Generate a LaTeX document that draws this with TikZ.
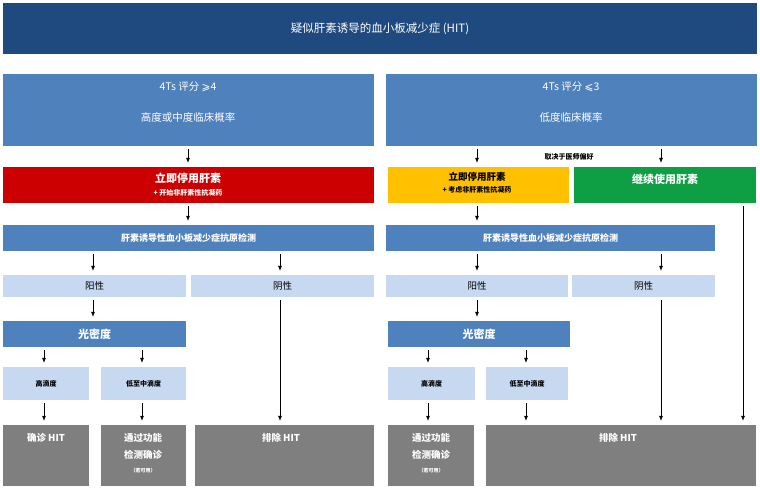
\documentclass[tikz,border=0pt]{standalone}
\usepackage{fontspec}
\setmainfont{Liberation Sans}
\newfontfamily\cjk{Noto Sans CJK SC}
\newfontfamily\dv{DejaVu Sans}
\usetikzlibrary{arrows.meta}
\definecolor{dblue}{HTML}{1F4A7F}
\definecolor{mblue}{HTML}{4F81BD}
\definecolor{lblue}{HTML}{C6D9F1}
\definecolor{hred}{HTML}{CC0000}
\definecolor{hyel}{HTML}{FFC000}
\definecolor{hgrn}{HTML}{0E9F44}
\definecolor{hgray}{HTML}{7F7F7F}
\begin{document}
\begin{tikzpicture}[x=1pt,y=-1pt,font=\cjk\fontsize{10.5}{12}\selectfont,
  arr/.style={-{Latex[length=5pt,width=4pt]},line width=0.6pt,shorten >=4pt,shorten <=3pt},
  wt/.style={text=white}]
\useasboundingbox (0,0) rectangle (760,488);
\newcommand\bb[6]{\fill[#6] (#2,#3) rectangle (#4,#5); \node[inner sep=0] (#1) at ({(#2+#4)/2},{(#3+#5)/2}) [minimum width={#4-#2},minimum height={#5-#3}] {};}
\bb{title}{3}{3}{757}{54}{dblue}
\node[wt,font=\cjk\fontsize{11.5}{13}\selectfont] at (title) {疑似肝素诱导的血小板减少症 (HIT)};
\bb{lt}{3}{74}{374}{146}{mblue}
\node[wt] at (188,87) {4Ts 评分 {\dv ⩾}4};
\node[wt] at (188,117) {高度或中度临床概率};
\bb{rt}{386}{74}{757}{146}{mblue}
\node[wt] at (571,87) {4Ts 评分 {\dv ⩽}3};
\node[wt] at (571,117) {低度临床概率};
\bb{red}{3}{167}{374}{203}{hred}
\node[wt,font=\cjk\bfseries\fontsize{11}{12}\selectfont] at (188,178) {立即停用肝素};
\node[wt,font=\cjk\bfseries\fontsize{7}{8}\selectfont] at (188,193) {+ 开始非肝素性抗凝药};
\bb{yel}{388}{167}{569}{203}{hyel}
\node[font=\cjk\bfseries\fontsize{9.5}{11}\selectfont] at (477,177) {立即停用肝素};
\node[font=\cjk\bfseries\fontsize{7}{8}\selectfont] at (477,190) {+ 考虑非肝素性抗凝药};
\bb{grn}{574}{167}{756}{203}{hgrn}
\node[wt,font=\cjk\bfseries\fontsize{11}{12}\selectfont] at (665,179) {继续使用肝素};
\node[font=\cjk\bfseries\fontsize{7}{8}\selectfont] (pref) at (569,157) {取决于医师偏好};
\bb{la}{3}{225}{374}{251}{mblue}
\node[wt,font=\cjk\bfseries\fontsize{9}{11}\selectfont] at (la) {肝素诱导性血小板减少症抗原检测};
\bb{ra}{386}{225}{715}{251}{mblue}
\node[wt,font=\cjk\bfseries\fontsize{9}{11}\selectfont] at (ra) {肝素诱导性血小板减少症抗原检测};
\bb{lp}{3}{275}{186}{297}{lblue}\node[font=\cjk\fontsize{9.5}{11}\selectfont] at (lp) {阳性};
\bb{ln}{191}{275}{374}{297}{lblue}\node[font=\cjk\fontsize{9.5}{11}\selectfont] at (ln) {阴性};
\bb{rp}{386}{275}{568}{297}{lblue}\node[font=\cjk\fontsize{9.5}{11}\selectfont] at (rp) {阳性};
\bb{rn}{572}{275}{715}{297}{lblue}\node[font=\cjk\fontsize{9.5}{11}\selectfont] at (rn) {阴性};
\bb{lo}{3}{321}{186}{347}{mblue}\node[wt,font=\cjk\bfseries\fontsize{11}{12}\selectfont] at (lo) {光密度};
\bb{ro}{388}{321}{570}{347}{mblue}\node[wt,font=\cjk\bfseries\fontsize{11}{12}\selectfont] at (ro) {光密度};
\bb{lh}{3}{367}{89}{400}{lblue}\node[font=\cjk\bfseries\fontsize{7}{8}\selectfont] at (lh) {高滴度};
\bb{ll}{101}{367}{186}{400}{lblue}\node[font=\cjk\bfseries\fontsize{7}{8}\selectfont] at (ll) {低至中滴度};
\bb{rh}{388}{367}{475}{400}{lblue}\node[font=\cjk\bfseries\fontsize{7}{8}\selectfont] at (rh) {高滴度};
\bb{rl}{486}{367}{568}{400}{lblue}\node[font=\cjk\bfseries\fontsize{7}{8}\selectfont] at (rl) {低至中滴度};
\bb{g1}{3}{425}{89}{486}{hgray}\node[wt,font=\cjk\bfseries\fontsize{9.5}{11}\selectfont] at (46,438) {确诊 HIT};
\bb{g2}{101}{425}{186}{486}{hgray}
\node[wt,font=\cjk\bfseries\fontsize{9.5}{11}\selectfont] at (143,438) {通过功能};
\node[wt,font=\cjk\bfseries\fontsize{9.5}{11}\selectfont] at (143,455) {检测确诊};
\node[wt,font=\cjk\bfseries\fontsize{5}{6}\selectfont] at (143,471) {（若可用）};
\bb{g3}{195}{425}{374}{486}{hgray}\node[wt,font=\cjk\bfseries\fontsize{9.5}{11}\selectfont] at (281,438) {排除 HIT};
\bb{g4}{388}{425}{474}{486}{hgray}
\node[wt,font=\cjk\bfseries\fontsize{9.5}{11}\selectfont] at (431,438) {通过功能};
\node[wt,font=\cjk\bfseries\fontsize{9.5}{11}\selectfont] at (431,455) {检测确诊};
\node[wt,font=\cjk\bfseries\fontsize{5}{6}\selectfont] at (431,471) {（若可用）};
\bb{g5}{486}{425}{756}{486}{hgray}\node[wt,font=\cjk\bfseries\fontsize{9.5}{11}\selectfont] at (618,438) {排除 HIT};
% connectors
\coordinate (c1) at (188,0); \coordinate (c2) at (477,0); \coordinate (c3) at (661,0);
\coordinate (c4) at (93,0); \coordinate (c5) at (280,0); \coordinate (c6) at (743,0);
\coordinate (c7) at (44,0); \coordinate (c8) at (142,0); \coordinate (c9) at (428,0); \coordinate (c10) at (526,0);
\draw[arr] (lt.south -| c1) -- (red.north -| c1);
\draw[arr] (rt.south -| c2) -- (yel.north -| c2);
\draw[arr] (rt.south -| c3) -- (grn.north -| c3);
\draw[arr] (red.south -| c1) -- (la.north -| c1);
\draw[arr] (yel.south -| c2) -- (ra.north -| c2);
\draw[arr] (la.south -| c4) -- (lp.north -| c4);
\draw[arr] (la.south -| c5) -- (ln.north -| c5);
\draw[arr] (ra.south -| c2) -- (rp.north -| c2);
\draw[arr] (ra.south -| c3) -- (rn.north -| c3);
\draw[arr] (lp.south -| c4) -- (lo.north -| c4);
\draw[arr] (rp.south -| c2) -- (ro.north -| c2);
\draw[arr] (ln.south -| c5) -- (g3.north -| c5);
\draw[arr] (rn.south -| c3) -- (g5.north -| c3);
\draw[arr] (grn.south -| c6) -- (g5.north -| c6);
\draw[arr] (lo.south -| c7) -- (lh.north -| c7);
\draw[arr] (lo.south -| c8) -- (ll.north -| c8);
\draw[arr] (ro.south -| c9) -- (rh.north -| c9);
\draw[arr] (ro.south -| c10) -- (rl.north -| c10);
\draw[arr] (lh.south -| c7) -- (g1.north -| c7);
\draw[arr] (ll.south -| c8) -- (g2.north -| c8);
\draw[arr] (rh.south -| c9) -- (g4.north -| c9);
\draw[arr] (rl.south -| c10) -- (g5.north -| c10);
\end{tikzpicture}
\end{document}
